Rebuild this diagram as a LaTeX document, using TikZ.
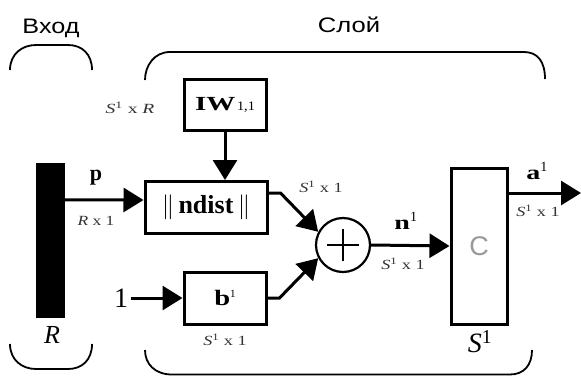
\documentclass[tikz,border=0pt]{standalone}
\usepackage{graphicx}
\usepackage{fontspec}
\setmainfont{Liberation Serif}
\newfontfamily\sansf{Liberation Sans}
\usetikzlibrary{arrows.meta,calc}
\newcommand\hs[2]{\scalebox{#1}[1]{#2}}
\newcommand\fs[1]{\fontsize{#1}{#1}\selectfont}
\begin{document}
\begin{tikzpicture}[x=1pt,y=-1pt,
  blk/.style={draw, line width=3pt, inner sep=0pt},
  arr/.style={line width=3pt, -{Triangle[length=20pt,width=24pt]}},
  brace/.style={line width=1.8pt},
  small/.style={font=\fs{14}, text=black!80, inner sep=0pt},
  head/.style={font=\sansf\fs{21}, inner sep=0pt}]
\useasboundingbox (0,0) rectangle (581,376);

% headings
\node[head] (tin) at (51,28) {\hs{1.2}{Вход}};
\node[head] (tlay) at (349,25) {\hs{1.22}{Слой}};

% braces
\draw[brace] (10,70) .. controls (10,54) and (22,45) .. (36,45) -- (68,45) .. controls (82,45) and (92,54) .. (92,70);
\draw[brace] (145,80) .. controls (145,66) and (154,52) .. (170,52) -- (524,52) .. controls (538,52) and (545,62) .. (545,79);
\draw[brace] (10,344) .. controls (10,360) and (22,369) .. (36,369) -- (68,369) .. controls (82,369) and (92,360) .. (92,344);
\draw[brace] (145,350) .. controls (145,364) and (155,374.5) .. (172,374.5) -- (510,374.5) .. controls (524,374.5) and (532,365) .. (532,350);

% input bar
\node[fill=black, inner sep=0pt, minimum width=29pt, minimum height=155pt] (bar) at (50.5,240.5) {};
\node[font=\itshape\fs{26}, inner sep=0pt] (rlab) at (52,335) {R};

% boxes
\node[blk, minimum width=82pt, minimum height=51pt] (iw) at (225,104.5)
  {\hs{1.45}{\fs{20}\bfseries IW}\,\hs{1.1}{\fs{13}1,1}};
\node[blk, minimum width=122pt, minimum height=52pt] (nd) at (206,207.5)
  {\fs{26}$\|$\,\textbf{ndist}\,$\|$};
\node[blk, minimum width=82pt, minimum height=52pt] (b) at (225,298)
  {\hs{1.3}{\fs{22}\textbf{b}}\raisebox{8pt}{\fs{11}1}};
\node[draw, circle, line width=2.2pt, minimum size=54pt, inner sep=0pt] (sum) at (343,245) {};
\draw[line width=2.2pt] ($(sum.center)+(-16,0)$) -- ($(sum.center)+(16,0)$);
\draw[line width=2.2pt] ($(sum.center)+(0,-16)$) -- ($(sum.center)+(0,16)$);
\node[blk, minimum width=56pt, minimum height=156pt] (cb) at (479,246)
  {\sansf\fs{27}\color{black!40}C};

\node[font=\fs{28}, inner sep=0pt] (one) at (121,298) {1};

% connectors
\draw[arr] (iw.south) -- (iw.south |- nd.north);
\draw[arr] ($(bar.north east)+(0,37)$) -- ($(nd.west)+(0,-7.5)$);
\draw[arr] ($(one.east)+(3,0)$) -- (b.west);
\draw[arr] ($(nd.east)+(0,-14.5)$) -- ++(12,0) -- (sum.152);
\draw[arr] (b.east) -- ++(12,0) -- (sum.208);
\draw[arr] (sum.east) -- (cb.west);
\coordinate (out) at (581,193);
\draw[arr] (cb.east |- out) -- (out);

% labels
\node[font=\fs{22}\bfseries, inner sep=0pt] (plab) at (96,178) {p};
\node[small] (l1) at (96,221) {\hs{1.25}{\textit{R} x 1}};
\node[small] (l2) at (130,108) {\hs{1.4}{\textit{S}\textsuperscript{1} x \textit{R}}};
\node[small] (l3) at (321,187) {\hs{1.3}{\textit{S}\textsuperscript{1} x 1}};
\node[small] (l4) at (225,340) {\hs{1.3}{\textit{S}\textsuperscript{1} x 1}};
\node[font=\fs{20}\bfseries, inner sep=0pt] (nlab) at (406,221) {\hs{1.4}{n}\textsuperscript{\mdseries 1}};
\node[small] (l5) at (403,264) {\hs{1.3}{\textit{S}\textsuperscript{1} x 1}};
\node[font=\itshape\fs{28}, inner sep=0pt] (slab) at (480,342) {S\textsuperscript{\upshape 1}};
\node[font=\fs{20}\bfseries, inner sep=0pt] (alab) at (537,171) {\hs{1.4}{a}\textsuperscript{\mdseries 1}};
\node[small] (l6) at (538,211) {\hs{1.3}{\textit{S}\textsuperscript{1} x 1}};
\end{tikzpicture}
\end{document}
